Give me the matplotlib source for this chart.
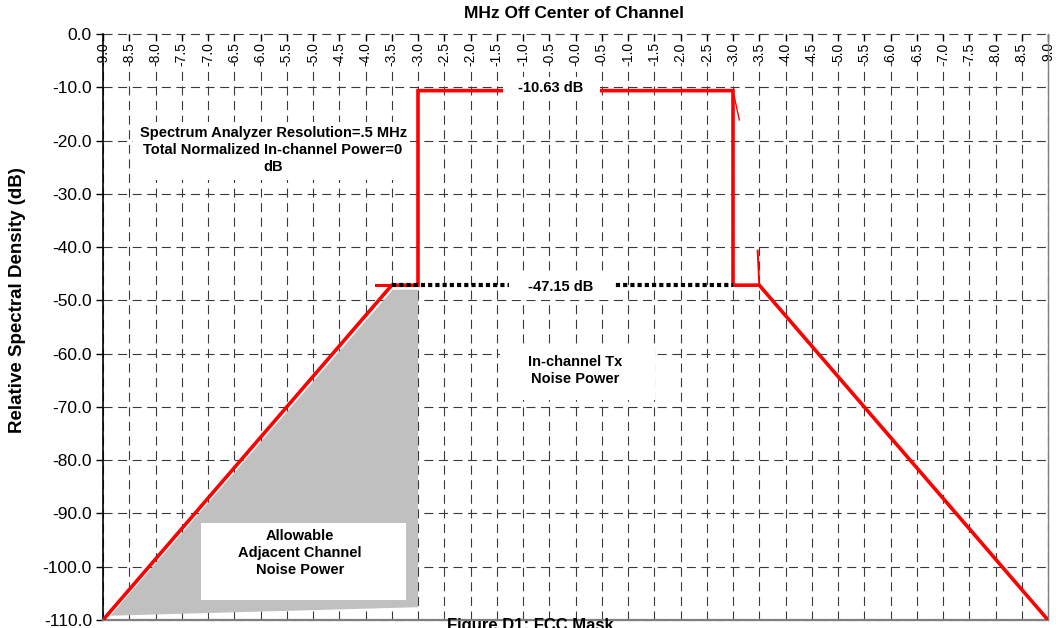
import numpy as np
import matplotlib.pyplot as plt
from matplotlib.patches import Polygon, Rectangle

plt.rcParams['font.family'] = ['Liberation Sans', 'DejaVu Sans']
plt.rcParams['lines.scale_dashes'] = False

# frequency offset axis (MHz) and density axis (dB)
mhz_ticks = np.arange(-9.0, 9.01, 0.5)
mhz_labels = [f"{v:.1f}" if v > 0 else f"-{abs(v):.1f}" for v in mhz_ticks]
db_ticks = np.arange(-110.0, 0.01, 10.0)
db_labels = [f"{v:.1f}" for v in db_ticks]

# levels of the mask
inband_db = -10.63
floor_db = -47.15

# FCC mask outline
mask_mhz = [-9.0, -3.5, -3.0, -3.0, 3.0, 3.0, 3.5, 9.0]
mask_db = [-110.0, floor_db, floor_db, inband_db, inband_db, floor_db, floor_db, -110.0]

# short stub left of the lower corner
stub_mhz = [-3.8, -3.5]
stub_db = [floor_db, floor_db]

# in-channel noise floor
floor_mhz = [-3.5, 3.0]

# allowable adjacent channel noise area
adjacent_mhz = [-8.86, -3.0, -3.0, -3.48]
adjacent_db = [-109.2, -107.6, -48.0, -48.0]

fig = plt.figure(figsize=(10.62, 6.28), dpi=100)
ax = fig.add_axes([103 / 1062, 8 / 628, 945 / 1062, 586 / 628])
ax.set_xlim(-9, 9)
ax.set_ylim(-110, 0)

# axes styling
ax.spines['top'].set_visible(False)
ax.spines['left'].set_color('black')
ax.spines['left'].set_linewidth(1.2)
ax.spines['right'].set_color('#808080')
ax.spines['right'].set_linewidth(1.0)
ax.spines['bottom'].set_color('#808080')
ax.spines['bottom'].set_linewidth(1.6)

ax.set_xticks(mhz_ticks)
ax.xaxis.set_ticks_position('top')
ax.tick_params(axis='x', direction='in', length=5, width=1, pad=-6.0,
               labeltop=True, labelbottom=False, colors='black')
ax.set_xticklabels(mhz_labels, rotation=90, fontsize=10, va='top')
for lab in ax.get_xticklabels():
    lab.set_bbox(dict(facecolor='white', edgecolor='none', pad=0.6))

ax.set_yticks(db_ticks)
ax.set_yticklabels(db_labels, fontsize=12.5)
ax.tick_params(axis='y', direction='out', length=5, width=1, pad=3)

ax.grid(True, color='#3a3a3a', linewidth=0.8, linestyle=(0, (6.5, 4.0)))
for gl in ax.get_xgridlines() + ax.get_ygridlines():
    gl.set_clip_on(False)

# grey area under the mask
ax.add_patch(Polygon(list(zip(adjacent_mhz, adjacent_db)), closed=True,
                     facecolor='#c0c0c0', edgecolor='none', zorder=2))

ax.plot(mask_mhz, mask_db, color='#ff0000', linewidth=2.6,
        solid_joinstyle='miter', zorder=4)
ax.plot(stub_mhz, stub_db, color='#ff0000', linewidth=2.2, zorder=4)
ax.plot([3.0, 3.12], [inband_db, inband_db - 5.5], color='#ff0000', linewidth=1.0, zorder=4)
ax.plot([3.5, 3.47], [floor_db, floor_db + 6.5], color='#ff0000', linewidth=1.4, zorder=4)

ax.plot(floor_mhz, [floor_db, floor_db], color='black', linewidth=3.0,
        linestyle=(0, (3.0, 2.2)), dash_capstyle='butt', zorder=5)

# white label boxes
bold = dict(fontsize=10.5, fontweight='bold', ha='center', va='center', zorder=7)

ax.add_patch(Rectangle((-8.43, -27.4), 5.28, 10.9, facecolor='white',
                       edgecolor='none', zorder=3))
ax.text(-5.76, -21.8, "Spectrum Analyzer Resolution=.5 MHz\n"
        "Total Normalized In-channel Power=0\ndB", linespacing=1.25, **bold)

ax.add_patch(Rectangle((-1.38, -12.6), 1.85, 4.6, facecolor='white',
                       edgecolor='none', zorder=6))
ax.text(-0.47, -10.2, f"{inband_db:.2f} dB", **bold)

ax.add_patch(Rectangle((-1.27, -49.9), 1.98, 4.7, facecolor='white',
                       edgecolor='none', zorder=6))
ax.text(-0.28, -47.5, f"{floor_db:.2f} dB", **bold)

ax.add_patch(Rectangle((-1.44, -68.7), 2.95, 10.3, facecolor='white',
                       edgecolor='none', zorder=3))
ax.text(0.0, -63.2, "In-channel Tx\nNoise Power", linespacing=1.3, **bold)

ax.add_patch(Rectangle((-7.13, -106.25), 3.9, 14.45, facecolor='white',
                       edgecolor='none', zorder=3))
ax.text(-5.25, -97.4, "Allowable\nAdjacent Channel\nNoise Power", linespacing=1.3, **bold)

fig.text(574 / 1062, 1 - 14 / 628, "MHz Off Center of Channel",
         fontsize=12.5, fontweight='bold', ha='center', va='center')
fig.text(18 / 1062, 1 - 300 / 628, "Relative Spectral Density (dB)",
         fontsize=13.5, fontweight='bold', rotation=90, ha='center', va='center')
fig.text(530 / 1062, 1 - 618 / 628, "Figure D1: FCC Mask",
         fontsize=12, fontweight='bold', ha='center', va='top')

fig.savefig('out.png', dpi=100)
